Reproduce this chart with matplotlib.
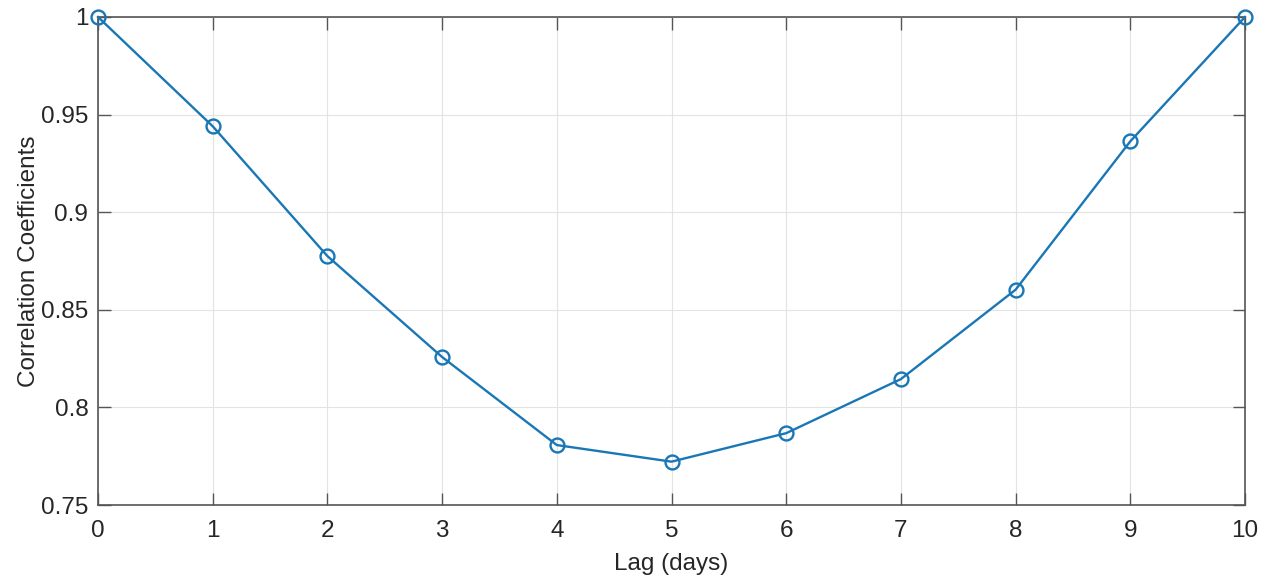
import matplotlib.pyplot as plt

lag = [0, 1, 2, 3, 4, 5, 6, 7, 8, 9, 10]
corr = [1.0, 0.944, 0.8775, 0.8258, 0.7807, 0.7722, 0.7868, 0.8145, 0.8603, 0.9363, 1.0]
xticks = list(range(0, 11))
yticks = [0.75, 0.8, 0.85, 0.9, 0.95, 1]
ylabels = ['0.75', '0.8', '0.85', '0.9', '0.95', '1']

plt.rcParams['font.family'] = ['Liberation Sans', 'DejaVu Sans']

fig = plt.figure(figsize=(12.7, 5.82), dpi=100)
ax = fig.add_axes([0.0772, 0.1323, 0.9031, 0.8385])

ax.plot(lag, corr, color='#1a77b5', linewidth=1.7, marker='o', markersize=10,
        markerfacecolor='none', markeredgewidth=1.7, clip_on=False, zorder=3)

ax.set_xlim(0, 10)
ax.set_ylim(0.75, 1)
ax.set_xticks(xticks)
ax.set_yticks(yticks)
ax.set_yticklabels(ylabels)
ax.grid(True, color='#e3e3e3', linewidth=0.8)
ax.set_axisbelow(True)
ax.tick_params(direction='in', length=9, width=1, color='#555555', labelsize=17.5,
               top=True, right=True, labelcolor='#262626')
ax.tick_params(axis='x', pad=11)
ax.tick_params(axis='y', pad=7)
for s in ax.spines.values():
    s.set_color('#555555')
    s.set_linewidth(1.2)

ax.set_xlabel('Lag (days)', fontsize=17.5, color='#262626', labelpad=8)
ax.set_ylabel('Correlation Coefficients', fontsize=17.5, color='#262626', labelpad=1)

fig.savefig('out.png', dpi=100)
